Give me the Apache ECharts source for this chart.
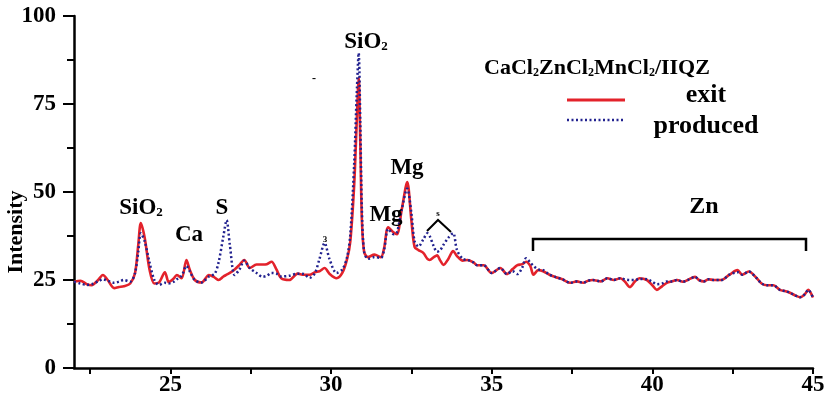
<!DOCTYPE html>
<html>
<head>
<meta charset="utf-8">
<script src="https://cdn.jsdelivr.net/npm/echarts@6/dist/echarts.min.js"></script>
<style>
  html, body { margin: 0; padding: 0; background: #fff; }
  #chart { width: 826px; height: 396px; }
</style>
</head>
<body>
<div id="chart"></div>
<script>
// 2θ 位置
var twoTheta = [22.0, 22.2, 22.4, 22.55, 22.75, 22.9, 23.05, 23.25, 23.4, 23.55, 23.75, 23.9, 24.0, 24.08, 24.2, 24.35, 24.5, 24.65, 24.83, 24.95,
  25.1, 25.2, 25.35, 25.5, 25.6, 25.76, 25.97, 26.2, 26.38, 26.5, 26.65, 26.75, 26.85, 27.0, 27.15, 27.3, 27.47, 27.68, 27.87, 28.0,
  28.15, 28.3, 28.45, 28.7, 28.96, 29.15, 29.33, 29.5, 29.64, 29.8, 29.95, 30.17, 30.35, 30.5, 30.6, 30.72, 30.8, 30.86, 30.91, 30.96,
  31.03, 31.15, 31.35, 31.55, 31.65, 31.78, 31.95, 32.05, 32.2, 32.37, 32.5, 32.6, 32.72, 32.87, 33.0, 33.07, 33.2, 33.3, 33.4, 33.5,
  33.65, 33.8, 33.92, 34.1, 34.25, 34.43, 34.55, 34.75, 35.0, 35.27, 35.47, 35.65, 35.8, 35.95, 36.07, 36.2, 36.3, 36.45, 36.6, 36.8,
  37.0, 37.2, 37.45, 37.65, 37.85, 38.0, 38.15, 38.4, 38.6, 38.8, 39.0, 39.15, 39.3, 39.45, 39.6, 39.83, 40.0, 40.14, 40.3, 40.45,
  40.6, 40.77, 40.95, 41.1, 41.33, 41.45, 41.6, 41.75, 41.9, 42.15, 42.4, 42.65, 42.8, 43.0, 43.25, 43.4, 43.57, 43.77, 43.97, 44.15,
  44.3, 44.45, 44.6, 44.75, 44.85, 45.0];
// exit 曲线
var exitVals = [24.5, 24.8, 23.8, 23.5, 25.0, 26.4, 25.0, 22.7, 23.0, 23.2, 24.0, 27.0, 35.0, 41.2, 37.0, 28.0, 24.0, 24.3, 27.2, 24.4,
  25.4, 26.4, 25.5, 30.7, 28.0, 25.0, 24.3, 26.4, 25.7, 25.0, 26.0, 26.5, 27.0, 28.0, 29.3, 30.7, 28.4, 29.4, 29.4, 29.5,
  30.2, 28.0, 25.5, 25.0, 26.8, 26.5, 26.5, 27.2, 27.5, 28.4, 26.8, 25.5, 27.0, 31.0, 36.0, 52.0, 70.0, 82.4, 64.0, 42.0,
  33.0, 31.5, 32.2, 31.5, 34.0, 40.0, 38.5, 38.0, 45.0, 52.8, 42.0, 34.4, 33.5, 32.7, 31.0, 30.7, 31.5, 32.0, 30.5, 29.3,
  31.0, 33.2, 31.8, 30.5, 30.7, 30.0, 29.2, 29.2, 27.0, 28.4, 26.7, 28.1, 29.2, 29.5, 30.2, 29.0, 26.5, 27.8, 27.5, 26.5,
  25.8, 25.2, 24.2, 24.6, 24.2, 24.8, 25.0, 24.6, 25.5, 25.0, 25.5, 24.5, 23.0, 24.5, 25.5, 25.0, 23.5, 22.2, 23.2, 24.2,
  24.6, 25.0, 24.5, 25.0, 25.9, 25.0, 24.6, 25.2, 25.0, 25.0, 26.5, 27.8, 26.5, 27.4, 25.5, 24.0, 23.5, 23.5, 22.2, 21.8,
  21.3, 20.6, 20.1, 21.0, 22.2, 20.0];
// produced 曲线
var producedVals = [24.5, 24.0, 23.6, 23.8, 24.6, 25.2, 24.8, 24.2, 24.5, 25.0, 24.5, 27.0, 33.0, 38.3, 36.0, 30.0, 25.0, 23.6, 24.2, 24.0,
  24.5, 25.2, 26.2, 29.0, 27.5, 25.0, 24.3, 26.0, 26.8, 30.0, 37.5, 42.0, 35.0, 26.4, 28.0, 30.5, 28.4, 27.0, 25.9, 26.2,
  27.0, 26.8, 26.0, 26.2, 26.8, 26.7, 25.6, 27.0, 31.0, 35.5, 31.0, 27.0, 28.0, 31.5, 38.0, 58.0, 78.0, 89.5, 70.0, 45.0,
  33.0, 31.0, 31.5, 31.3, 33.5, 39.5, 38.0, 38.5, 45.0, 51.0, 44.0, 36.0, 34.5, 36.5, 38.3, 37.5, 34.5, 33.0, 33.5, 35.0,
  37.0, 38.3, 33.5, 31.0, 30.7, 30.0, 29.2, 29.2, 27.0, 28.4, 26.7, 27.5, 26.7, 28.5, 31.2, 30.0, 29.0, 28.0, 27.8, 26.5,
  25.8, 25.2, 24.2, 24.6, 24.2, 24.8, 25.0, 24.6, 25.5, 25.0, 25.5, 25.2, 25.0, 25.0, 25.3, 25.2, 24.5, 23.8, 24.0, 24.6,
  24.6, 25.0, 24.5, 25.0, 25.9, 25.0, 24.6, 25.2, 25.0, 25.0, 26.5, 27.2, 26.5, 27.4, 25.5, 24.0, 23.5, 23.5, 22.2, 21.8,
  21.3, 20.6, 20.1, 21.0, 22.2, 20.0];
// 刻度
var xTicks = [22.5, 25, 27.5, 30, 32.5, 35, 37.5, 40, 42.5, 45];
var xLabels = [25, 30, 35, 40, 45];

var serif = "'Liberation Serif', 'Times New Roman', serif";

function pairs(xs, ys) {
  var out = [];
  for (var i = 0; i < xs.length; i++) out.push([xs[i], ys[i]]);
  return out;
}

// 带下标的文字
function label(x, y, text, size) {
  return {
    type: 'text', x: x, y: y, z: 10,
    style: {
      text: text,
      align: 'center', verticalAlign: 'middle',
      rich: {
        b: { fontFamily: serif, fontWeight: 'bold', fontSize: size, fill: '#000' },
        s: { fontFamily: serif, fontWeight: 'bold', fontSize: Math.round(size * 0.55), fill: '#000', verticalAlign: 'bottom' }
      }
    }
  };
}

var myChart = echarts.init(document.getElementById('chart'));
var option = {
  animation: false,
  grid: { left: 74, right: 13, top: 16, bottom: 28, containLabel: false, outerBoundsMode: 'none' },
  xAxis: {
    type: 'value', min: 22, max: 45,
    splitLine: { show: false },
    axisLine: { onZero: false, lineStyle: { color: '#000', width: 2.5 } },
    axisTick: { customValues: xTicks, length: 6, lineStyle: { color: '#000', width: 2 } },
    axisLabel: { customValues: xLabels, color: '#000', fontFamily: serif, fontWeight: 'bold', fontSize: 23, margin: 6 }
  },
  yAxis: {
    type: 'value', min: 0, max: 100, interval: 25,
    splitLine: { show: false },
    axisLine: { show: true, lineStyle: { color: '#000', width: 2.5 } },
    axisTick: { show: true, length: 11, lineStyle: { color: '#000', width: 2 } },
    minorTick: { show: true, splitNumber: 2, length: 7, lineStyle: { color: '#000', width: 2 } },
    minorSplitLine: { show: false },
    axisLabel: { color: '#000', fontFamily: serif, fontWeight: 'bold', fontSize: 23, margin: 18 }
  },
  series: [{
    name: 'exit', type: 'line', data: pairs(twoTheta, exitVals),
    showSymbol: false, smooth: 0.3, z: 2,
    lineStyle: { color: '#e3222b', width: 2.6 }
  }, {
    name: 'produced', type: 'line', data: pairs(twoTheta, producedVals),
    showSymbol: false, smooth: 0.3, z: 3,
    lineStyle: { color: '#22228f', width: 2.5, type: [2, 2.5] }
  }],
  graphic: [
    // y 轴标题
    { type: 'text', x: 16, y: 232, rotation: Math.PI / 2, z: 10,
      style: { text: 'Intensity', fontFamily: serif, fontWeight: 'bold', fontSize: 22, fill: '#000', align: 'center', verticalAlign: 'middle' } },
    // 图例
    label(597, 68, '{b|CaCl}{s|2}{b|ZnCl}{s|2}{b|MnCl}{s|2}{b|/IIQZ}', 22),
    { type: 'line', shape: { x1: 567, y1: 100, x2: 625, y2: 100 }, style: { stroke: '#e3222b', lineWidth: 3 } },
    { type: 'line', shape: { x1: 567, y1: 120, x2: 625, y2: 120 }, style: { stroke: '#22228f', lineWidth: 2.5, lineDash: [2, 2.5] } },
    label(706, 95, '{b|exit}', 26),
    label(706, 126, '{b|produced}', 26),
    // 峰标注
    label(141, 208, '{b|SiO}{s|2}', 23),
    label(189, 235, '{b|Ca}', 23),
    label(222, 208, '{b|S}', 23),
    label(325, 240, '{b|3}', 9),
    label(314, 79, '{b|-}', 12),
    label(366, 42, '{b|SiO}{s|2}', 23),
    label(407, 168, '{b|Mg}', 23),
    label(386, 215, '{b|Mg}', 23),
    label(438, 214, '{b|s}', 9),
    { type: 'polyline', shape: { points: [[427, 231], [438, 220], [451, 232]] }, style: { stroke: '#000', lineWidth: 2, fill: null } },
    label(704, 207, '{b|Zn}', 24),
    { type: 'polyline', shape: { points: [[533, 251], [533, 239], [806, 239], [806, 251]] }, style: { stroke: '#000', lineWidth: 2.5, fill: null } }
  ]
};
myChart.setOption(option);
</script>
</body>
</html>
